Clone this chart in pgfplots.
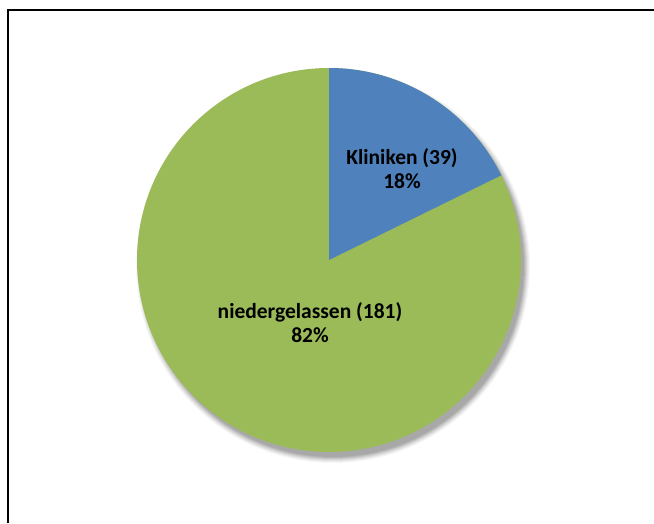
\documentclass[border=0pt]{standalone}
\usepackage{pgfplots}
\pgfplotsset{compat=1.18}
\usepackage{fontspec}
\setmainfont{Carlito}
\definecolor{kblue}{HTML}{4F81BD}
\definecolor{kgreen}{HTML}{9BBB59}
\def\vA{39}
\def\vB{181}
\pgfmathsetmacro{\angA}{90-360*\vA/(\vA+\vB)}
\pgfmathsetmacro{\angB}{\angA-360}
\begin{document}
\begin{tikzpicture}
\begin{axis}[
  hide axis, scale only axis,
  width=654pt, height=523pt,
  xmin=0, xmax=654, ymin=0, ymax=523,
  clip=false]
\addplot[draw=none, forget plot] coordinates {(0,0) (654,523)};
% frame
\draw[black, line width=1.6pt] (axis cs:8,0) -- (axis cs:8,513) -- (axis cs:654,513);
% shadow
\fill[black, opacity=0.03] (axis cs:333,257) circle[radius=197pt];
\fill[black, opacity=0.04] (axis cs:333,257) circle[radius=196pt];
\fill[black, opacity=0.05] (axis cs:333,257) circle[radius=195pt];
\fill[black, opacity=0.06] (axis cs:333,257) circle[radius=194pt];
\fill[black, opacity=0.07] (axis cs:333,257) circle[radius=193pt];
\fill[black, opacity=0.08] (axis cs:333,257) circle[radius=192pt];
\fill[black, opacity=0.08] (axis cs:333,257) circle[radius=191pt];
% sectors
\fill[kgreen] (axis cs:329,263) -- ++(90:192pt) arc[start angle=90, end angle=\angB, radius=192pt] -- cycle;
\fill[kblue] (axis cs:329,263) -- ++(90:192pt) arc[start angle=90, end angle=\angA, radius=192pt] -- cycle;
% labels
\node[align=center, font=\fontsize{21.5}{24}\selectfont\bfseries] at (axis cs:402,354) {Kliniken (39)\\18\%};
\node[align=center, font=\fontsize{21.5}{24}\selectfont\bfseries] at (axis cs:310,200) {niedergelassen (181)\\82\%};
\end{axis}
\pgfresetboundingbox
\useasboundingbox (0,0) rectangle (654pt,523pt);
\end{tikzpicture}
\end{document}
